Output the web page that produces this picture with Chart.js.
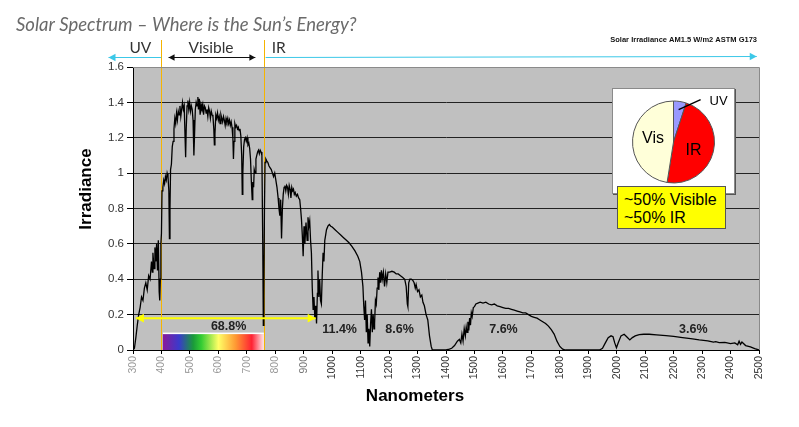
<!DOCTYPE html>
<html>
<head>
<meta charset="utf-8">
<script src="https://cdn.jsdelivr.net/npm/chart.js@4.4.1/dist/chart.umd.min.js"></script>
<style>
  body { margin: 0; background: #fff; }
  #wrap { position: relative; width: 799px; height: 427px; overflow: hidden; }
  #main { position: absolute; left: 0; top: 0; }
  #pie { position: absolute; left: 613px; top: 89px; background: #fff;
         box-shadow: 0 0 0 1px #8a8a8a, 1px 1px 0 1px #555; }
  #note { position: absolute; left: 617px; top: 186px; width: 109px; height: 43px;
          background: #ffff00; border: 1px solid #555;
          font: 16px "Liberation Sans", Arial, sans-serif; color: #000;
          line-height: 18px; padding: 4px 0 0 6px; box-sizing: border-box; }
</style>
</head>
<body>
<div id="wrap">
  <canvas id="main" width="799" height="427"></canvas>
  <canvas id="pie" width="121" height="104"></canvas>
  <div id="note">~50% Visible<br>~50% IR</div>
</div>
<script>
// Spectre AM1.5 (nm / irradiance)
const wavelengths = [
  300, 305, 310, 315, 320, 325, 330, 335, 340, 345, 350, 355, 360, 365, 368, 370, 374, 377, 380, 383,
  386, 389, 392, 394, 396, 398, 400, 402, 405, 408, 411, 414, 417, 420, 423, 426, 428, 430, 432, 435,
  438, 441, 444, 447, 450, 453, 456, 459, 462, 465, 468, 471, 474, 477, 480, 483, 485, 487, 490, 493,
  496, 499, 502, 505, 508, 511, 514, 516, 519, 522, 525, 528, 530, 533, 536, 539, 542, 545, 548, 551,
  554, 557, 560, 563, 566, 569, 572, 575, 578, 581, 584, 586, 588, 591, 594, 597, 600, 603, 606, 609,
  612, 615, 618, 621, 624, 627, 630, 633, 636, 639, 642, 645, 648, 651, 653, 655, 658, 661, 664, 667,
  670, 673, 676, 679, 682, 684, 686, 689, 692, 695, 698, 701, 704, 707, 710, 713, 716, 719, 721, 724,
  726, 729, 732, 735, 738, 741, 744, 747, 750, 753, 756, 758, 760, 762, 764, 767, 770, 774, 778, 782,
  786, 790, 794, 798, 802, 806, 810, 813, 816, 819, 822, 825, 828, 831, 834, 837, 840, 843, 846, 849,
  852, 855, 858, 861, 864, 867, 870, 874, 878, 882, 886, 889, 892, 895, 898, 901, 904, 908, 912, 915,
  918, 921, 924, 927, 930, 933, 936, 939, 942, 945, 948, 950, 953, 956, 959, 962, 965, 968, 971, 974,
  977, 980, 985, 990, 995, 1000, 1010, 1020, 1030, 1040, 1050, 1060, 1070, 1080, 1090, 1097, 1103, 1108, 1111, 1114,
  1117, 1120, 1123, 1126, 1129, 1132, 1135, 1138, 1141, 1144, 1147, 1149, 1152, 1155, 1158, 1161, 1164, 1167, 1170, 1173,
  1176, 1180, 1184, 1188, 1192, 1196, 1202, 1210, 1218, 1225, 1232, 1240, 1248, 1255, 1260, 1264, 1266, 1269, 1273, 1278,
  1283, 1288, 1292, 1295, 1300, 1305, 1310, 1315, 1319, 1324, 1330, 1336, 1342, 1348, 1352, 1390, 1400, 1412, 1420, 1430,
  1440, 1447, 1452, 1456, 1460, 1464, 1468, 1471, 1474, 1477, 1480, 1483, 1486, 1489, 1492, 1496, 1500, 1505, 1512, 1520,
  1530, 1540, 1550, 1560, 1570, 1580, 1590, 1600, 1610, 1620, 1630, 1640, 1650, 1660, 1670, 1680, 1690, 1700, 1710, 1720,
  1730, 1740, 1750, 1760, 1770, 1780, 1790, 1800, 1810, 1820, 1940, 1950, 1960, 1970, 1980, 1987, 1993, 1999, 2005, 2015,
  2026, 2035, 2046, 2055, 2065, 2079, 2095, 2114, 2140, 2173, 2200, 2231, 2260, 2290, 2320, 2340, 2348, 2360, 2380, 2400,
  2415, 2425, 2430, 2435, 2440, 2453, 2470, 2485, 2500
];
const irradiance = [
  0.00, 0.01, 0.07, 0.14, 0.20, 0.24, 0.30, 0.28, 0.35, 0.38, 0.34, 0.42, 0.40, 0.50, 0.44, 0.55, 0.46, 0.58, 0.50, 0.60,
  0.45, 0.62, 0.33, 0.28, 0.40, 0.60, 0.66, 0.90, 0.92, 0.96, 0.94, 0.98, 0.96, 1.00, 0.98, 0.90, 0.63, 0.80, 1.02, 1.05,
  1.15, 1.18, 1.25, 1.31, 1.28, 1.34, 1.30, 1.35, 1.33, 1.38, 1.32, 1.36, 1.40, 1.36, 1.38, 1.20, 1.09, 1.25, 1.38, 1.41,
  1.36, 1.40, 1.35, 1.38, 1.36, 1.30, 1.10, 1.20, 1.36, 1.40, 1.38, 1.43, 1.36, 1.42, 1.33, 1.39, 1.37, 1.39, 1.33, 1.38,
  1.37, 1.34, 1.36, 1.32, 1.37, 1.35, 1.31, 1.35, 1.33, 1.32, 1.25, 1.16, 1.22, 1.33, 1.31, 1.34, 1.30, 1.32, 1.28, 1.33,
  1.31, 1.29, 1.32, 1.30, 1.27, 1.31, 1.29, 1.31, 1.28, 1.30, 1.27, 1.29, 1.26, 1.20, 1.08, 1.18, 1.28, 1.26, 1.27, 1.25,
  1.26, 1.24, 1.25, 1.21, 1.10, 0.88, 1.00, 1.15, 1.19, 1.20, 1.18, 1.20, 1.16, 1.17, 1.14, 1.08, 0.95, 0.85, 0.95, 0.92,
  1.02, 1.00, 1.08, 1.10, 1.12, 1.13, 1.11, 1.13, 1.12, 1.10, 0.60, 0.14, 0.30, 0.80, 1.06, 1.08, 1.07, 1.06, 1.04, 1.03,
  1.02, 1.00, 0.98, 1.00, 0.96, 0.92, 0.86, 0.80, 0.76, 0.85, 0.63, 0.80, 0.88, 0.92, 0.93, 0.90, 0.93, 0.92, 0.88, 0.93,
  0.91, 0.86, 0.92, 0.90, 0.91, 0.88, 0.89, 0.87, 0.88, 0.86, 0.85, 0.80, 0.74, 0.65, 0.53, 0.70, 0.60, 0.72, 0.62, 0.75,
  0.70, 0.73, 0.62, 0.55, 0.35, 0.23, 0.30, 0.18, 0.25, 0.15, 0.32, 0.45, 0.30, 0.40, 0.28, 0.26, 0.42, 0.55, 0.50, 0.62,
  0.65, 0.68, 0.70, 0.71, 0.70, 0.695, 0.68, 0.665, 0.65, 0.635, 0.62, 0.605, 0.585, 0.56, 0.53, 0.50, 0.44, 0.36, 0.25, 0.17,
  0.28, 0.10, 0.20, 0.04, 0.12, 0.02, 0.15, 0.23, 0.10, 0.20, 0.12, 0.15, 0.28, 0.26, 0.35, 0.41, 0.34, 0.44, 0.38, 0.45,
  0.40, 0.44, 0.36, 0.43, 0.38, 0.44, 0.44, 0.445, 0.44, 0.43, 0.43, 0.42, 0.41, 0.40, 0.36, 0.26, 0.245, 0.38, 0.40, 0.40,
  0.395, 0.38, 0.35, 0.37, 0.33, 0.34, 0.30, 0.31, 0.27, 0.25, 0.20, 0.17, 0.08, 0.02, 0.00, 0.00, 0.00, 0.005, 0.01, 0.025,
  0.05, 0.06, 0.04, 0.09, 0.05, 0.12, 0.08, 0.13, 0.10, 0.16, 0.11, 0.18, 0.14, 0.21, 0.19, 0.24, 0.245, 0.26, 0.265, 0.27,
  0.265, 0.27, 0.26, 0.255, 0.26, 0.25, 0.245, 0.24, 0.235, 0.235, 0.23, 0.225, 0.22, 0.215, 0.21, 0.21, 0.20, 0.19, 0.185, 0.18,
  0.17, 0.16, 0.15, 0.135, 0.115, 0.09, 0.05, 0.02, 0.005, 0.00, 0.00, 0.01, 0.04, 0.07, 0.08, 0.075, 0.04, 0.013, 0.04, 0.08,
  0.089, 0.075, 0.057, 0.07, 0.08, 0.087, 0.089, 0.089, 0.086, 0.081, 0.077, 0.07, 0.064, 0.057, 0.052, 0.045, 0.047, 0.042, 0.043, 0.036,
  0.04, 0.03, 0.05, 0.032, 0.045, 0.025, 0.018, 0.008, 0.00
];

// Pourcentages par bande
const bandLabels = ['68.8%', '11.4%', '8.6%', '7.6%', '3.6%'];
const bandCenters = [636, 1026, 1237, 1602, 2269];
const bandLevels = [0.13, 0.113, 0.113, 0.113, 0.113];

// Limites UV / visible / IR
const visibleRange = [400, 760];

// Camembert en encart
const pieLabels = ['UV', 'IR', 'Vis'];
const pieValues = [5, 47.5, 47.5];
const pieColors = ['#9999ff', '#ff0000', '#ffffd9'];

const FONT = '"Liberation Sans", Arial, sans-serif';

function arrow(ctx, x0, y0, x1, y1, color, width, headA, headB, size) {
    ctx.save();
    ctx.strokeStyle = color;
    ctx.fillStyle = color;
    ctx.lineWidth = width;
    ctx.beginPath();
    ctx.moveTo(x0, y0);
    ctx.lineTo(x1, y1);
    ctx.stroke();
    const head = (tx, ty, dir) => {
        ctx.beginPath();
        ctx.moveTo(tx, ty);
        ctx.lineTo(tx - dir * size, ty - size * 0.55);
        ctx.lineTo(tx - dir * size, ty + size * 0.55);
        ctx.closePath();
        ctx.fill();
    };
    if (headA) head(x0, y0, x0 < x1 ? -1 : 1);
    if (headB) head(x1, y1, x1 > x0 ? 1 : -1);
    ctx.restore();
}

const decor = {
    id: 'decor',
    beforeDraw(chart) {
        const {ctx, chartArea: a} = chart;
        ctx.save();
        ctx.fillStyle = '#c0c0c0';
        ctx.fillRect(a.left, a.top, a.right - a.left, a.bottom - a.top);
        ctx.restore();
    },
    beforeDatasetsDraw(chart) {
        const {ctx, chartArea: a, scales: {x, y}} = chart;
        ctx.save();
        // barre arc-en-ciel
        const x0 = x.getPixelForValue(visibleRange[0] + 5);
        const x1 = x.getPixelForValue(visibleRange[1]);
        const yt = y.getPixelForValue(0.09);
        const g = ctx.createLinearGradient(x0, 0, x1, 0);
        g.addColorStop(0, '#8a1a9a');
        g.addColorStop(0.16, '#3a3acc');
        g.addColorStop(0.3, '#1a9a3a');
        g.addColorStop(0.38, '#33cc33');
        g.addColorStop(0.55, '#ffff66');
        g.addColorStop(0.72, '#ff9933');
        g.addColorStop(0.88, '#ff2233');
        g.addColorStop(1, '#ffe8ea');
        ctx.fillStyle = g;
        ctx.fillRect(x0, yt, x1 - x0, a.bottom - yt);
        ctx.fillStyle = '#ffffff';
        ctx.fillRect(x0, yt - 1.5, x1 - x0, 1.5);
        // lignes verticales orange
        ctx.strokeStyle = '#f5b400';
        ctx.lineWidth = 1;
        visibleRange.forEach(v => {
            const px = Math.round(x.getPixelForValue(v)) + 0.5;
            ctx.beginPath();
            ctx.moveTo(px, 40);
            ctx.lineTo(px, a.bottom);
            ctx.stroke();
        });
        ctx.restore();
    },
    afterDatasetsDraw(chart) {
        const {ctx, chartArea: a, scales: {x, y}} = chart;
        // fleche jaune
        const ya = y.getPixelForValue(0.18);
        arrow(ctx, x.getPixelForValue(310), ya, x.getPixelForValue(942), ya, '#ffff00', 2, true, true, 8);
        ctx.save();
        ctx.fillStyle = '#222';
        ctx.font = 'bold 12.5px ' + FONT;
        ctx.textAlign = 'center';
        ctx.textBaseline = 'middle';
        bandLabels.forEach((t, i) => {
            ctx.fillText(t, x.getPixelForValue(bandCenters[i]), y.getPixelForValue(bandLevels[i]));
        });
        // bord droit / haut
        ctx.strokeStyle = '#8a8a8a';
        ctx.beginPath();
        ctx.moveTo(a.left, a.top + 0.5);
        ctx.lineTo(a.right + 0.5, a.top + 0.5);
        ctx.lineTo(a.right + 0.5, a.bottom);
        ctx.stroke();
        ctx.restore();
    },
    afterDraw(chart) {
        const {ctx, scales: {x}} = chart;
        ctx.save();
        // titre
        ctx.fillStyle = '#6a6a6a';
        ctx.font = 'italic 18.5px Lato, "Open Sans", sans-serif';
        ctx.textBaseline = 'alphabetic';
        ctx.fillText('Solar Spectrum \u2013 Where is the Sun\u2019s Energy?', 16, 31, 357);
        // source
        ctx.fillStyle = '#111';
        ctx.font = 'bold 7.5px ' + FONT;
        ctx.textAlign = 'right';
        ctx.fillText('Solar Irradiance AM1.5 W/m2 ASTM G173', 757, 42, 150);
        // UV / Visible / IR
        ctx.fillStyle = '#333';
        ctx.font = '15.5px Lato, "Open Sans", sans-serif';
        ctx.textAlign = 'center';
        ctx.fillText('UV', x.getPixelForValue(326), 53);
        ctx.fillText('Visible', x.getPixelForValue(574), 53);
        ctx.fillText('IR', x.getPixelForValue(812), 53);
        ctx.restore();
        const yArr = 57.5;
        arrow(ctx, x.getPixelForValue(399), yArr, x.getPixelForValue(214), yArr, '#3cc8e8', 1.2, false, true, 7);
        arrow(ctx, x.getPixelForValue(766), yArr, x.getPixelForValue(2492), yArr - 1, '#3cc8e8', 1.2, false, true, 7);
        arrow(ctx, x.getPixelForValue(425), yArr, x.getPixelForValue(730), yArr, '#111', 1, true, true, 6);
        // titres d'axes
        ctx.save();
        ctx.fillStyle = '#000';
        ctx.font = 'bold 17px ' + FONT;
        ctx.textAlign = 'center';
        ctx.textBaseline = 'middle';
        ctx.fillText('Nanometers', 415, 396);
        ctx.translate(86, 189);
        ctx.rotate(-Math.PI / 2);
        ctx.fillText('Irradiance', 0, 0);
        ctx.restore();
    }
};

new Chart(document.getElementById('main'), {
    type: 'line',
    data: {
        datasets: [{
            data: wavelengths.map((w, i) => ({x: w, y: irradiance[i]})),
            borderColor: '#000',
            borderWidth: 1.3,
            pointRadius: 0,
            tension: 0,
            fill: false
        }]
    },
    options: {
        responsive: false,
        animation: false,
        events: [],
        layout: {padding: {top: 67, right: 40, left: 0, bottom: 0}},
        plugins: {legend: {display: false}, tooltip: {enabled: false}},
        scales: {
            x: {
                type: 'linear',
                min: 300,
                max: 2500,
                afterFit(scale) { scale.height = 77; },
                border: {color: '#000', width: 1},
                grid: {drawOnChartArea: false, drawTicks: true, tickLength: 4, color: '#000'},
                ticks: {
                    stepSize: 100,
                    autoSkip: false,
                    minRotation: 90,
                    maxRotation: 90,
                    padding: 2,
                    font: {family: FONT, size: 10.5},
                    color: ctx => ctx.tick.value <= 800 ? '#999' : (ctx.tick.value <= 900 ? '#777' : '#333'),
                    callback: v => String(v)
                }
            },
            y: {
                min: 0,
                max: 1.6,
                afterFit(scale) { scale.width = 133; },
                border: {color: '#000', width: 1},
                grid: {
                    color: ctx => ctx.tick.value >= 1.6 ? '#8a8a8a' : '#222',
                    lineWidth: 1,
                    tickLength: 6,
                    tickColor: '#000'
                },
                ticks: {
                    stepSize: 0.2,
                    padding: 3,
                    font: {family: FONT, size: 11.5},
                    color: '#333',
                    callback: v => String(+v.toFixed(1))
                }
            }
        }
    },
    plugins: [decor]
});

const pieText = {
    id: 'pieText',
    afterDraw(chart) {
        const {ctx} = chart;
        const arcs = chart.getDatasetMeta(0).data;
        ctx.save();
        ctx.fillStyle = '#000';
        ctx.textAlign = 'center';
        ctx.textBaseline = 'middle';
        ctx.font = '16px ' + FONT;
        const vis = arcs[2].tooltipPosition();
        ctx.fillText(pieLabels[2], vis.x, vis.y - 2);
        const ir = arcs[1].tooltipPosition();
        ctx.fillText(pieLabels[1], ir.x, ir.y + 4);
        // UV : trait de rappel
        const uv = arcs[0];
        const mid = (uv.startAngle + uv.endAngle) / 2;
        const sx = uv.x + Math.cos(mid) * uv.outerRadius * 0.8;
        const sy = uv.y + Math.sin(mid) * uv.outerRadius * 0.8;
        ctx.strokeStyle = '#000';
        ctx.lineWidth = 1.5;
        ctx.beginPath();
        ctx.moveTo(sx, sy);
        ctx.lineTo(sx + 22, sy - 10);
        ctx.stroke();
        ctx.font = '13px ' + FONT;
        ctx.fillText(pieLabels[0], sx + 40, sy - 8);
        ctx.restore();
    }
};

new Chart(document.getElementById('pie'), {
    type: 'pie',
    data: {
        labels: pieLabels,
        datasets: [{
            data: pieValues,
            backgroundColor: pieColors,
            borderColor: '#555',
            borderWidth: 1
        }]
    },
    options: {
        responsive: false,
        animation: false,
        events: [],
        layout: {padding: {left: 19, right: 19, top: 11.5, bottom: 9.5}},
        plugins: {legend: {display: false}, tooltip: {enabled: false}}
    },
    plugins: [pieText]
});
</script>
</body>
</html>
